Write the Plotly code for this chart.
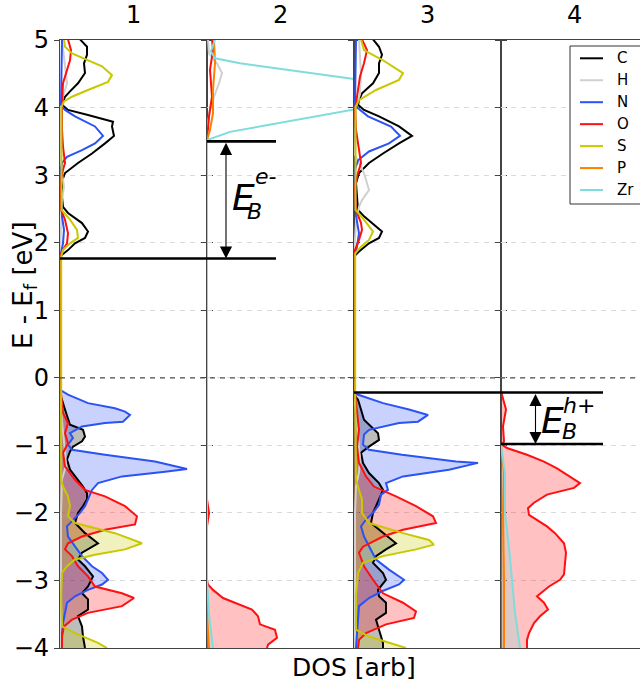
import plotly.graph_objects as go

# ---------------- data ----------------
ELEMENTS = ["C", "H", "N", "O", "S", "P", "Zr"]
PANEL_TITLES = ["1", "2", "3", "4"]
Y_TICKS = [-4, -3, -2, -1, 0, 1, 2, 3, 4, 5]
X_AXIS_LABEL = "DOS [arb]"
Y_AXIS_LABEL = "E - E<sub>f</sub> [eV]"

# band edges (eV) used for the binding-energy markers
cbm_p1 = 1.765
cbm_p2 = 3.50
vbm_p3 = -0.217
vbm_p4 = -0.98

# (energy, DOS) pairs per panel / element
p1_C = [(5.01, 0.20), (4.90, 0.27), (4.78, 0.27), (4.655, 0.24), (4.51, 0.25), (4.36, 0.18), (4.24, 0.10),
        (4.16, 0.05), (4.04, 0.02), (3.965, 0.08), (3.89, 0.28), (3.79, 0.53), (3.72, 0.52), (3.58, 0.54),
        (3.47, 0.45), (3.32, 0.32), (3.18, 0.18), (3.03, 0.05), (2.95, 0.03), (2.83, 0.02), (2.68, 0.02),
        (2.53, 0.03), (2.44, 0.08), (2.29, 0.22), (2.165, 0.28), (2.07, 0.25), (1.99, 0.15), (1.89, 0.08),
        (1.82, 0.02), (1.77, 0.0),
        (-0.25, 0.0), (-0.325, 0.02), (-0.47, 0.05), (-0.62, 0.08), (-0.695, 0.10), (-0.77, 0.23), (-0.87, 0.25),
        (-0.94, 0.22), (-1.02, 0.13), (-1.09, 0.10), (-1.21, 0.07), (-1.36, 0.10), (-1.46, 0.15), (-1.61, 0.23),
        (-1.71, 0.27), (-1.80, 0.27), (-1.90, 0.23), (-2.00, 0.18), (-2.15, 0.15), (-2.30, 0.25), (-2.45, 0.38),
        (-2.50, 0.32), (-2.59, 0.22), (-2.69, 0.18), (-2.79, 0.25), (-2.94, 0.33), (-3.09, 0.28), (-3.19, 0.22),
        (-3.28, 0.28), (-3.43, 0.28), (-3.53, 0.18), (-3.68, 0.22), (-3.83, 0.23), (-4.0, 0.25)]
p1_H = [(5.01, 0.02), (4.56, 0.05), (4.36, 0.07), (4.16, 0.03), (4.0, 0.01), (3.2, 0.01), (3.03, 0.02),
        (2.83, 0.04), (2.63, 0.02), (2.2, 0.01), (1.8, 0.0), (-0.3, 0.0), (-0.5, 0.01), (-0.8, 0.03),
        (-1.1, 0.05), (-1.3, 0.06), (-1.5, 0.02), (-2.0, 0.01), (-4.0, 0.01)]
p1_N = [(5.01, 0.02), (4.04, 0.01), (3.965, 0.05), (3.87, 0.15), (3.72, 0.35), (3.58, 0.43), (3.47, 0.35),
        (3.37, 0.22), (3.27, 0.07), (3.18, 0.02), (3.03, 0.0), (2.39, 0.02), (2.19, 0.04), (1.99, 0.03),
        (1.84, 0.01), (1.77, 0.0),
        (-0.18, 0.0), (-0.25, 0.08), (-0.375, 0.28), (-0.45, 0.55), (-0.50, 0.65), (-0.55, 0.70), (-0.65, 0.63),
        (-0.67, 0.45), (-0.72, 0.22), (-0.82, 0.10), (-0.89, 0.13), (-0.99, 0.08), (-1.065, 0.12), (-1.14, 0.45),
        (-1.24, 0.95), (-1.35, 1.27), (-1.39, 1.05), (-1.46, 0.62), (-1.56, 0.38), (-1.66, 0.32), (-1.80, 0.28),
        (-1.90, 0.25), (-2.00, 0.20), (-2.10, 0.13), (-2.20, 0.07), (-2.35, 0.08), (-2.50, 0.15), (-2.64, 0.22),
        (-2.79, 0.32), (-2.89, 0.42), (-2.99, 0.48), (-3.06, 0.42), (-3.14, 0.28), (-3.235, 0.15), (-3.33, 0.07),
        (-3.48, 0.05), (-3.63, 0.03), (-3.78, 0.02), (-4.0, 0.02)]
p1_O = [(5.01, 0.08), (4.85, 0.11), (4.70, 0.10), (4.56, 0.07), (4.36, 0.03), (4.06, 0.02), (3.67, 0.02),
        (3.42, 0.03), (3.18, 0.05), (3.08, 0.03), (2.93, 0.01), (2.53, 0.0), (2.34, 0.05), (2.14, 0.08),
        (1.99, 0.07), (1.87, 0.02), (1.795, 0.0),
        (-0.23, 0.01), (-0.52, 0.03), (-0.67, 0.08), (-0.82, 0.05), (-0.97, 0.08), (-1.11, 0.03), (-1.31, 0.05),
        (-1.51, 0.15), (-1.66, 0.25), (-1.755, 0.45), (-1.90, 0.65), (-2.05, 0.77), (-2.17, 0.75), (-2.25, 0.45),
        (-2.35, 0.22), (-2.45, 0.08), (-2.54, 0.05), (-2.64, 0.12), (-2.79, 0.18), (-2.94, 0.28), (-3.09, 0.35),
        (-3.19, 0.62), (-3.26, 0.74), (-3.38, 0.62), (-3.48, 0.28), (-3.58, 0.12), (-3.68, 0.04), (-3.83, 0.02),
        (-4.0, 0.02)]
p1_S = [(5.01, 0.04), (4.90, 0.05), (4.80, 0.12), (4.70, 0.28), (4.61, 0.42), (4.48, 0.52), (4.38, 0.48),
        (4.26, 0.28), (4.16, 0.12), (4.09, 0.04), (4.01, 0.015), (2.485, 0.015), (2.34, 0.10), (2.19, 0.17),
        (2.07, 0.18), (1.99, 0.10), (1.89, 0.03), (1.795, 0.012), (-0.03, 0.012),
        (-1.51, 0.012), (-1.61, 0.03), (-1.755, 0.08), (-1.90, 0.10), (-2.05, 0.08), (-2.15, 0.15), (-2.30, 0.55),
        (-2.45, 0.82), (-2.54, 0.65), (-2.62, 0.35), (-2.69, 0.15), (-2.79, 0.07), (-2.89, 0.02), (-3.235, 0.012),
        (-3.68, 0.02), (-3.78, 0.15), (-3.925, 0.38), (-4.0, 0.47)]

p2_H = [(5.01, 0.01), (4.80, 0.02), (4.655, 0.10), (4.51, 0.15), (4.36, 0.12), (4.16, 0.07), (3.965, 0.03),
        (3.7, 0.0)]
p2_O = [(5.01, 0.05), (4.85, 0.06), (4.56, 0.03), (4.16, 0.05), (3.87, 0.02), (3.67, 0.01), (3.52, 0.0),
        (-1.8, 0.0), (-1.9, 0.01), (-2.0, 0.02), (-2.1, 0.01), (-2.2, 0.0), (-3.0, 0.0), (-3.06, 0.01),
        (-3.14, 0.06), (-3.26, 0.16), (-3.43, 0.45), (-3.53, 0.51), (-3.65, 0.53), (-3.73, 0.68), (-3.85, 0.70),
        (-3.95, 0.61), (-4.0, 0.60)]
p2_P = [(5.01, 0.07), (4.655, 0.08), (4.26, 0.06), (3.915, 0.06), (3.67, 0.03), (3.52, 0.0), (-3.5, 0.0),
        (-4.0, 0.02)]
p2_Zr = [(5.01, 0.08), (4.83, 0.04), (4.73, 0.08), (4.655, 0.33), (4.23, 2.43), (3.64, 0.23), (3.52, 0.0),
         (-3.0, 0.0), (-3.5, 0.02), (-4.0, 0.06)]

p3_C = [(5.01, 0.19), (4.90, 0.25), (4.78, 0.28), (4.655, 0.25), (4.51, 0.25), (4.36, 0.19), (4.21, 0.08),
        (4.11, 0.05), (4.04, 0.04), (3.965, 0.10), (3.87, 0.25), (3.72, 0.45), (3.58, 0.58), (3.47, 0.45),
        (3.32, 0.29), (3.18, 0.15), (3.03, 0.05), (2.88, 0.02), (2.68, 0.03), (2.485, 0.04), (2.39, 0.10),
        (2.24, 0.22), (2.165, 0.28), (2.07, 0.25), (1.99, 0.15), (1.87, 0.05), (1.795, 0.0),
        (-0.25, 0.0), (-0.325, 0.04), (-0.47, 0.07), (-0.62, 0.10), (-0.82, 0.24), (-0.92, 0.25), (-1.02, 0.15),
        (-1.11, 0.07), (-1.26, 0.09), (-1.41, 0.15), (-1.56, 0.25), (-1.66, 0.29), (-1.80, 0.25), (-2.00, 0.19),
        (-2.15, 0.17), (-2.30, 0.29), (-2.45, 0.42), (-2.54, 0.32), (-2.64, 0.22), (-2.74, 0.19), (-2.89, 0.29),
        (-2.99, 0.32), (-3.14, 0.24), (-3.235, 0.25), (-3.33, 0.32), (-3.48, 0.32), (-3.58, 0.22), (-3.73, 0.25),
        (-3.925, 0.29), (-4.0, 0.29)]
p3_H = [(5.01, 0.05), (4.5, 0.07), (4.2, 0.06), (4.0, 0.02), (3.3, 0.01), (3.03, 0.10), (2.78, 0.15),
        (2.63, 0.08), (2.53, 0.05), (2.3, 0.02), (1.8, 0.0), (-0.3, 0.0), (-0.5, 0.02), (-0.9, 0.04),
        (-1.2, 0.06), (-1.4, 0.05), (-1.6, 0.02), (-2.0, 0.01), (-4.0, 0.01)]
p3_N = [(5.01, 0.02), (4.04, 0.01), (3.99, 0.04), (3.87, 0.14), (3.72, 0.37), (3.58, 0.46), (3.47, 0.35),
        (3.35, 0.15), (3.22, 0.04), (3.08, 0.01), (2.4, 0.02), (2.14, 0.05), (1.94, 0.03), (1.82, 0.01),
        (1.77, 0.0),
        (-0.23, 0.0), (-0.25, 0.04), (-0.375, 0.29), (-0.47, 0.55), (-0.55, 0.74), (-0.65, 0.64), (-0.67, 0.45),
        (-0.77, 0.15), (-0.84, 0.10), (-0.99, 0.09), (-1.065, 0.15), (-1.14, 0.48), (-1.24, 1.02), (-1.26, 1.24),
        (-1.36, 0.95), (-1.46, 0.49), (-1.56, 0.32), (-1.66, 0.34), (-1.73, 0.27), (-1.88, 0.25), (-1.98, 0.20),
        (-2.10, 0.12), (-2.20, 0.07), (-2.35, 0.10), (-2.54, 0.17), (-2.69, 0.22), (-2.84, 0.35), (-2.99, 0.50),
        (-3.06, 0.45), (-3.16, 0.28), (-3.26, 0.15), (-3.38, 0.05), (-3.58, 0.04), (-4.0, 0.02)]
p3_O = [(5.01, 0.08), (4.85, 0.13), (4.655, 0.10), (4.46, 0.06), (4.26, 0.04), (3.965, 0.01), (3.67, 0.02),
        (3.37, 0.05), (3.18, 0.07), (3.03, 0.04), (2.83, 0.01), (2.485, 0.02), (2.29, 0.07), (2.19, 0.08),
        (2.04, 0.05), (1.89, 0.01), (1.8, 0.0),
        (-0.23, 0.01), (-0.52, 0.03), (-0.77, 0.05), (-1.02, 0.03), (-1.26, 0.05), (-1.46, 0.12), (-1.61, 0.20),
        (-1.755, 0.42), (-1.90, 0.62), (-2.05, 0.79), (-2.15, 0.82), (-2.25, 0.49), (-2.35, 0.29), (-2.50, 0.09),
        (-2.59, 0.05), (-2.79, 0.10), (-2.99, 0.19), (-3.19, 0.29), (-3.33, 0.49), (-3.46, 0.62), (-3.555, 0.60),
        (-3.65, 0.32), (-3.78, 0.12), (-3.88, 0.05), (-4.0, 0.04)]
p3_S = [(5.01, 0.07), (4.85, 0.10), (4.70, 0.29), (4.51, 0.49), (4.41, 0.45), (4.26, 0.22), (4.11, 0.05),
        (4.01, 0.015), (2.485, 0.015), (2.34, 0.10), (2.165, 0.19), (2.04, 0.15), (1.94, 0.07), (1.84, 0.012),
        (-0.23, 0.012), (-1.51, 0.02), (-1.66, 0.05), (-1.80, 0.08), (-2.00, 0.08), (-2.15, 0.15), (-2.30, 0.49),
        (-2.40, 0.75), (-2.47, 0.80), (-2.54, 0.62), (-2.64, 0.29), (-2.74, 0.09), (-2.89, 0.04), (-3.235, 0.02),
        (-3.73, 0.02), (-3.83, 0.15), (-4.0, 0.52)]

p4_O = [(-0.2, 0.0), (-0.325, 0.02), (-0.47, 0.05), (-0.72, 0.02), (-0.94, 0.03), (-0.99, 0.01), (-1.04, 0.06),
        (-1.14, 0.26), (-1.24, 0.43), (-1.34, 0.56), (-1.46, 0.69), (-1.56, 0.79), (-1.63, 0.73), (-1.73, 0.46),
        (-1.85, 0.33), (-1.93, 0.27), (-2.03, 0.28), (-2.10, 0.36), (-2.20, 0.46), (-2.30, 0.54), (-2.45, 0.63),
        (-2.59, 0.65), (-2.72, 0.64), (-2.84, 0.63), (-2.91, 0.63), (-2.99, 0.59), (-3.09, 0.48), (-3.235, 0.36),
        (-3.33, 0.43), (-3.43, 0.47), (-3.53, 0.39), (-3.63, 0.33), (-3.78, 0.28), (-3.88, 0.26), (-4.0, 0.26)]
p4_P = [(-1.0, 0.0), (-1.41, 0.03), (-2.0, 0.02), (-2.99, 0.03), (-4.0, 0.03)]
p4_Zr = [(-1.0, 0.0), (-1.41, 0.04), (-2.00, 0.04), (-2.50, 0.08), (-2.99, 0.11), (-3.48, 0.14), (-4.0, 0.19)]

panels = [
    {"C": p1_C, "H": p1_H, "N": p1_N, "O": p1_O, "S": p1_S},
    {"H": p2_H, "O": p2_O, "P": p2_P, "Zr": p2_Zr},
    {"C": p3_C, "H": p3_H, "N": p3_N, "O": p3_O, "S": p3_S},
    {"O": p4_O, "P": p4_P, "Zr": p4_Zr},
]

# ---------------- style ----------------
COLORS = {"C": (0, 0, 0), "H": (208, 208, 208), "N": (43, 82, 245), "O": (255, 16, 16),
          "S": (200, 200, 0), "P": (255, 128, 0), "Zr": (128, 220, 220)}
FONT = "DejaVu Sans"
W, H = 640, 686
ML, MR, MT, MB = 60, 0, 40, 38
PW = W - ML - MR
PH = H - MT - MB
panel_px = [60, 207, 354, 501, 640]
x_ranges = [[0, 1.47], [0, 1.47], [0, 1.47], [0, 1.39]]
SPINE = "#444444"


def px2x(px):
    return (px - ML) / PW


def py2y(py):
    return (H - MB - py) / PH


def rgb(c, a=None):
    if a is None:
        return "rgb(%d,%d,%d)" % c
    return "rgba(%d,%d,%d,%.2f)" % (c + (a,))


fig = go.Figure()
for i, pdata in enumerate(panels):
    xa = "x" if i == 0 else "x%d" % (i + 1)
    ya = "y" if i == 0 else "y%d" % (i + 1)
    for el in ELEMENTS:
        if el not in pdata:
            continue
        val = [p for p in pdata[el] if p[0] <= 0]
        if len(val) > 1:
            fig.add_trace(go.Scatter(x=[p[1] for p in val], y=[p[0] for p in val], mode="lines",
                                     line=dict(width=0), fill="tozerox", fillcolor=rgb(COLORS[el], 0.26),
                                     xaxis=xa, yaxis=ya, showlegend=False, hoverinfo="skip"))
    for el in ELEMENTS:
        if el not in pdata:
            continue
        fig.add_trace(go.Scatter(x=[p[1] for p in pdata[el]], y=[p[0] for p in pdata[el]], mode="lines",
                                 line=dict(width=2, color=rgb(COLORS[el])), name=el,
                                 xaxis=xa, yaxis=ya, showlegend=False))

layout = dict(width=W, height=H, margin=dict(l=ML, r=MR, t=MT, b=MB),
              paper_bgcolor="white", plot_bgcolor="white",
              font=dict(family=FONT, size=20, color="black"), showlegend=False)
for i in range(4):
    n = "" if i == 0 else str(i + 1)
    layout["xaxis" + n] = dict(domain=[px2x(panel_px[i]), px2x(panel_px[i + 1])], anchor="y" + n,
                               range=x_ranges[i], showline=True, mirror=True, linecolor=SPINE, linewidth=1.3,
                               showticklabels=False, ticks="", showgrid=False, zeroline=False, fixedrange=True)
    layout["yaxis" + n] = dict(domain=[0, 1], anchor="x" + n, range=[-4, 5], tickvals=Y_TICKS,
                               showline=True, mirror=("allticks" if i < 3 else False), linecolor=SPINE,
                               linewidth=1.3, ticks="outside", ticklen=5, tickcolor=SPINE, tickwidth=1.2,
                               showticklabels=(i == 0), tickfont=dict(size=24),
                               showgrid=True, gridcolor="#dadada", griddash="5px,5px", gridwidth=1,
                               zeroline=False, fixedrange=True)
fig.update_layout(**layout)

shapes = []
# Fermi level
shapes.append(dict(type="line", xref="paper", yref="y", x0=0, x1=1, y0=0, y1=0,
                   line=dict(color="#505050", width=1.3, dash="5px,5px"), layer="above"))
# band-edge markers
for y0, xa, xb in [(cbm_p1, 60, 276), (cbm_p2, 207, 276), (vbm_p3, 354, 603), (vbm_p4, 501, 603)]:
    shapes.append(dict(type="line", xref="paper", yref="y", x0=px2x(xa), x1=px2x(xb), y0=y0, y1=y0,
                       line=dict(color="black", width=2.6), layer="above"))
# legend frame and samples
leg_rows = [58.3 + 21.95 * k for k in range(len(ELEMENTS))]
shapes.append(dict(type="rect", xref="paper", yref="paper", x0=px2x(570), x1=px2x(660),
                   y0=py2y(204), y1=py2y(46), line=dict(color="#333333", width=1), fillcolor="white",
                   layer="above"))
for el, ry in zip(ELEMENTS, leg_rows):
    shapes.append(dict(type="line", xref="paper", yref="paper", x0=px2x(580), x1=px2x(603),
                       y0=py2y(ry), y1=py2y(ry), line=dict(color=rgb(COLORS[el]), width=2), layer="above"))
fig.update_layout(shapes=shapes)

ann = []
for el, ry in zip(ELEMENTS, leg_rows):
    ann.append(dict(xref="paper", yref="paper", x=px2x(615), y=py2y(ry), text=el, showarrow=False,
                    xanchor="left", yanchor="middle", font=dict(size=15)))
for i, t in enumerate(PANEL_TITLES):
    ann.append(dict(xref="paper", yref="paper", x=px2x((panel_px[i] + panel_px[i] + 147) / 2), y=py2y(15),
                    text=t, showarrow=False, xanchor="center", yanchor="middle", font=dict(size=24)))
ann.append(dict(xref="paper", yref="paper", x=px2x(354), y=py2y(667), text=X_AXIS_LABEL, showarrow=False,
                xanchor="center", yanchor="middle", font=dict(size=25)))
ann.append(dict(xref="paper", yref="paper", x=px2x(24), y=py2y(285), text=Y_AXIS_LABEL, showarrow=False,
                xanchor="center", yanchor="middle", textangle=-90, font=dict(size=26)))
# binding energy labels
for txt, px, py, sz in [("<i>E</i>", 230, 197, 36), ("<i>B</i>", 245, 211, 22), ("<i>e-</i>", 253, 177, 22),
                        ("<i>E</i>", 539, 420, 36), ("<i>B</i>", 560, 431, 22), ("<i>h+</i>", 561, 405, 22)]:
    ann.append(dict(xref="paper", yref="paper", x=px2x(px), y=py2y(py), text=txt, showarrow=False,
                    xanchor="left", yanchor="middle", font=dict(size=sz)))
# double arrows
for xr, yr, xv, ya_, yb_ in [("x2", "y2", 0.19, cbm_p1, cbm_p2), ("x4", "y4", 0.345, vbm_p4, vbm_p3)]:
    ann.append(dict(xref=xr, yref=yr, axref=xr, ayref=yr, x=xv, y=ya_, ax=xv, ay=yb_, text="",
                    showarrow=True, arrowside="end+start", arrowhead=2, startarrowhead=2,
                    arrowsize=2.2, startarrowsize=2.2, arrowwidth=1.1, arrowcolor="black"))
fig.update_layout(annotations=ann)

fig.write_html("out.html")
